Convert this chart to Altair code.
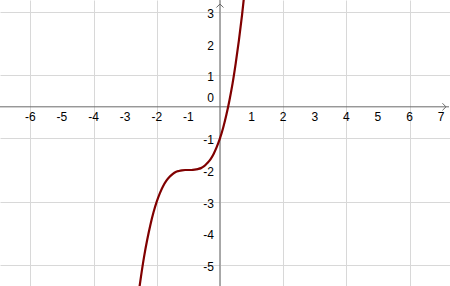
import altair as alt
import pandas as pd

# Curve points
curve_x = [-2.56, -2.5, -2.4, -2.3, -2.2, -2.1, -2.0, -1.9, -1.8, -1.7, -1.6, -1.5,
           -1.4, -1.3, -1.2, -1.1, -1.0, -0.9, -0.8, -0.7, -0.6, -0.5, -0.4, -0.3,
           -0.2, -0.1, 0.0, 0.1, 0.2, 0.3, 0.4, 0.5, 0.6, 0.7, 0.8]
curve_y = [-5.80, -5.38, -4.74, -4.20, -3.73, -3.33, -3.00, -2.73, -2.51, -2.34, -2.22, -2.13,
           -2.06, -2.03, -2.01, -2.00, -2.00, -2.00, -1.99, -1.97, -1.94, -1.88, -1.78, -1.66,
           -1.49, -1.27, -1.00, -0.67, -0.27, 0.20, 0.74, 1.38, 2.10, 2.91, 3.83]

x_ticks = [-6, -5, -4, -3, -2, -1, 1, 2, 3, 4, 5, 6, 7]
y_ticks = [-5, -4, -3, -2, -1, 1, 2, 3]
x_grid = list(range(-6, 8))
y_grid = list(range(-5, 4))
x_domain = [-6.96, 7.28]
y_domain = [-5.67, 3.38]

W, H = 450, 286
FONT = "Liberation Sans"

xs = alt.Scale(domain=x_domain, nice=False, zero=False)
ys = alt.Scale(domain=y_domain, nice=False, zero=False)

curve_df = pd.DataFrame({"x": curve_x, "y": curve_y})
xt_df = pd.DataFrame({"v": x_ticks, "label": [str(v) for v in x_ticks], "z": 0})
yt_df = pd.DataFrame({"v": y_ticks, "label": [str(v) for v in y_ticks], "z": 0})
origin_df = pd.DataFrame({"x": [0], "y": [0], "label": ["0"]})

grid_axis_x = alt.Axis(values=x_grid, grid=True, gridColor="#d8d8d8", gridWidth=1,
                       labels=False, ticks=False, domain=False, title=None)
grid_axis_y = alt.Axis(values=y_grid, grid=True, gridColor="#d8d8d8", gridWidth=1,
                       labels=False, ticks=False, domain=False, title=None)

base_grid = alt.Chart(origin_df).mark_point(opacity=0).encode(
    x=alt.X("x:Q", scale=xs, axis=grid_axis_x),
    y=alt.Y("y:Q", scale=ys, axis=grid_axis_y),
)

axis_color = "#6a6a6a"
x_axis_line = alt.Chart(origin_df).mark_rule(color=axis_color, strokeWidth=1).encode(
    y=alt.Y("y:Q", scale=ys), x=alt.value(0), x2=alt.value(W - 1))
y_axis_line = alt.Chart(origin_df).mark_rule(color=axis_color, strokeWidth=1).encode(
    x=alt.X("x:Q", scale=xs), y=alt.value(0), y2=alt.value(H))

x_arrow = alt.Chart(origin_df).mark_point(
    shape="M-1,-1 L0,0 L-1,1", size=50, filled=False, stroke=axis_color, strokeWidth=1, opacity=1
).encode(y=alt.Y("y:Q", scale=ys), x=alt.value(W - 4))
y_arrow = alt.Chart(origin_df).mark_point(
    shape="M-1,1 L0,0 L1,1", size=50, filled=False, stroke=axis_color, strokeWidth=1, opacity=1
).encode(x=alt.X("x:Q", scale=xs), y=alt.value(4))

x_labels = alt.Chart(xt_df).mark_text(
    font=FONT, fontSize=12, color="#000000", align="center", baseline="top", dy=5
).encode(x=alt.X("v:Q", scale=xs), y=alt.Y("z:Q", scale=ys), text="label:N")
y_labels = alt.Chart(yt_df).mark_text(
    font=FONT, fontSize=12, color="#000000", align="right", baseline="middle", dx=-6, dy=2
).encode(y=alt.Y("v:Q", scale=ys), x=alt.X("z:Q", scale=xs), text="label:N")
origin_label = alt.Chart(origin_df).mark_text(
    font=FONT, fontSize=12, color="#000000", align="right", baseline="bottom", dx=-6, dy=-2
).encode(x=alt.X("x:Q", scale=xs), y=alt.Y("y:Q", scale=ys), text="label:N")

curve = alt.Chart(curve_df).mark_line(
    color="#800000", strokeWidth=2.2, interpolate="monotone", clip=True
).encode(x=alt.X("x:Q", scale=xs), y=alt.Y("y:Q", scale=ys), order="x:Q")

chart = alt.layer(
    base_grid, x_axis_line, y_axis_line, x_arrow, y_arrow,
    x_labels, y_labels, origin_label, curve
).properties(
    width=W, height=H, padding=0, autosize=alt.AutoSizeParams(type="none"),
    background="white"
).configure_view(stroke=None)

chart.save("out.html", embed_options={"renderer": "svg", "actions": False})
